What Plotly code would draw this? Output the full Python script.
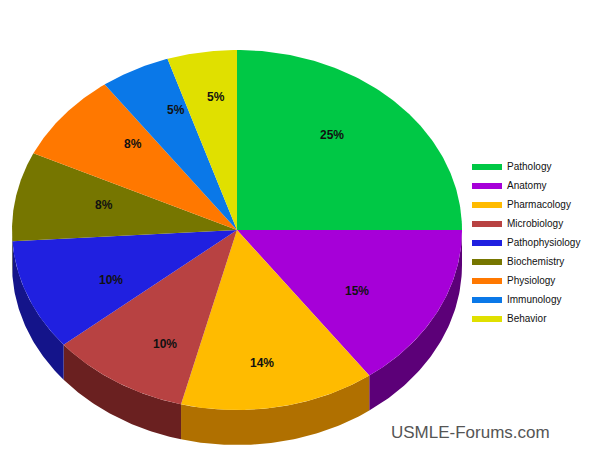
import numpy as np
import plotly.graph_objects as go

categories = ["Pathology","Anatomy","Pharmacology","Microbiology","Pathophysiology",
              "Biochemistry","Physiology","Immunology","Behavior"]
values = [25, 15, 14, 10, 10, 8, 8, 5, 5]
labels = ["25%","15%","14%","10%","10%","8%","8%","5%","5%"]
top_colors = ["#00c845","#a600d8","#ffbb00","#b84242","#2020e0","#767600","#ff7800","#0a78e8","#e0e000"]
side_colors = ["#006a25","#5c0078","#b07000","#6a2020","#14148a","#454500","#a04a00","#064a90","#8a8a00"]

cx, cy, rx, ry, depth = 237, 230, 225, 180, 35

def pt(t, dy=0):
    return cx + rx*np.sin(t), cy - ry*np.cos(t) + dy

fig = go.Figure()
total = sum(values)
bounds = np.cumsum([0]+values)/total*2*np.pi

for i in range(len(values)):
    a, b = max(bounds[i], np.pi/2), min(bounds[i+1], 3*np.pi/2)
    if b <= a: continue
    t = np.linspace(a, b, 60)
    x1, y1 = pt(t); x2, y2 = pt(t[::-1], depth)
    fig.add_trace(go.Scatter(x=np.r_[x1,x2,x1[0]], y=np.r_[y1,y2,y1[0]], fill="toself",
                  mode="lines", line=dict(width=0), fillcolor=side_colors[i],
                  showlegend=False, hoverinfo="skip"))
for i in range(len(values)):
    t = np.linspace(bounds[i], bounds[i+1], 100)
    x, y = pt(t)
    fig.add_trace(go.Scatter(x=np.r_[cx,x,cx], y=np.r_[cy,y,cy], fill="toself", mode="lines",
                  line=dict(width=0), fillcolor=top_colors[i], name=categories[i],
                  hoverinfo="name"))
    m = (bounds[i]+bounds[i+1])/2
    lx, ly = cx + 0.6*rx*np.sin(m), cy - 0.75*ry*np.cos(m)
    fig.add_annotation(x=lx, y=ly, text="<b>%s</b>" % labels[i], showarrow=False,
                       font=dict(size=12, color="#111", family="Arial"))

fig.add_annotation(x=470, y=432, text="USMLE-Forums.com", showarrow=False,
                   font=dict(size=17, color="#555", family="Arial"))
fig.update_layout(width=600, height=463, margin=dict(l=0,r=0,t=0,b=0),
    plot_bgcolor="white", paper_bgcolor="white",
    xaxis=dict(range=[8,608], visible=False, fixedrange=True),
    yaxis=dict(range=[471,8], visible=False, fixedrange=True),
    legend=dict(x=0.765, y=0.69, xanchor="left", yanchor="top", tracegroupgap=0,
                font=dict(size=10, family="Arial", color="#111"), itemwidth=30,
                bgcolor="rgba(0,0,0,0)"))
fig.write_html("out.html")
